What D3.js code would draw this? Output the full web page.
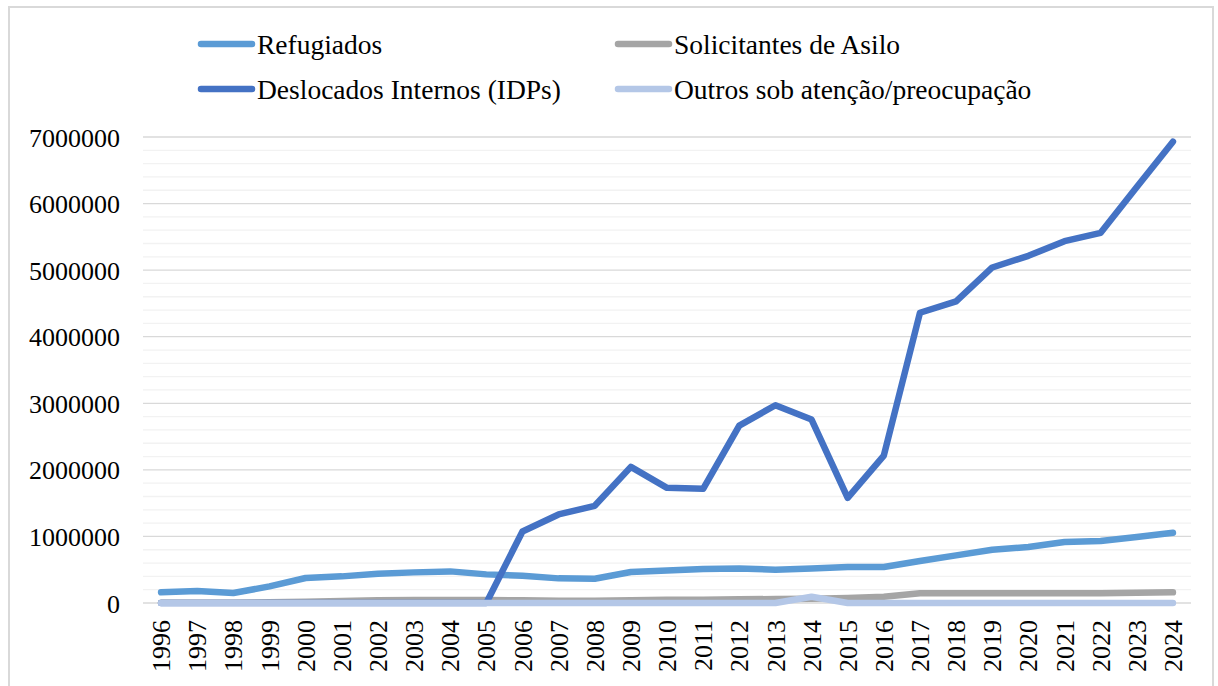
<!DOCTYPE html>
<html>
<head>
<meta charset="utf-8">
<script src="https://cdn.jsdelivr.net/npm/d3@7/dist/d3.min.js"></script>
<style>
  body { margin: 0; background: #fff; }
  text { font-family: "Liberation Serif", "Times New Roman", serif; fill: #000; }
</style>
</head>
<body>
<div id="chart"></div>
<script>
// Dados
const anos = ["1996","1997","1998","1999","2000","2001","2002","2003","2004","2005",
  "2006","2007","2008","2009","2010","2011","2012","2013","2014","2015",
  "2016","2017","2018","2019","2020","2021","2022","2023","2024"];

const refugiados = [160000,180000,150000,250000,375000,400000,440000,460000,475000,430000,
  410000,370000,365000,465000,490000,510000,520000,500000,520000,540000,
  540000,630000,715000,800000,840000,915000,930000,990000,1055000];

const solicitantes = [5000,5000,5000,10000,20000,30000,40000,45000,45000,45000,
  40000,35000,35000,40000,50000,50000,55000,60000,65000,75000,
  95000,145000,145000,145000,145000,145000,145000,155000,160000];

const deslocados = [0,0,0,0,0,0,0,0,0,0,
  1075000,1330000,1460000,2045000,1730000,1715000,2665000,2970000,2755000,1580000,
  2215000,4360000,4530000,5040000,5215000,5435000,5560000,6250000,6930000];

const outros = [0,0,0,0,0,0,0,0,0,0,
  0,0,0,0,0,0,0,0,95000,0,
  0,0,0,0,0,0,0,0,0];

const yTicks = [0,1000000,2000000,3000000,4000000,5000000,6000000,7000000];

const series = [
  { nome: "Refugiados", valores: refugiados, cor: "#5B9BD5" },
  { nome: "Solicitantes de Asilo", valores: solicitantes, cor: "#A5A5A5" },
  { nome: "Deslocados Internos (IDPs)", valores: deslocados, cor: "#4472C4" },
  { nome: "Outros sob atenção/preocupação", valores: outros, cor: "#B4C7E7" }
];

// ––––––––––––––––––––––––––––––––––––––––
const width = 1218, height = 686;
const plot = { left: 143, right: 1191, top: 137, bottom: 603 };

const svg = d3.select("#chart").append("svg")
  .attr("width", width).attr("height", height);

// Moldura
svg.append("rect")
  .attr("x", 9).attr("y", 7)
  .attr("width", 1204).attr("height", 700)
  .attr("fill", "none").attr("stroke", "#D9D9D9").attr("stroke-width", 2);

// Escalas
const x = d3.scaleBand().domain(anos).range([plot.left, plot.right]);
const y = d3.scaleLinear().domain([0, 7000000]).range([plot.bottom, plot.top]);

// Grelha secundária (200 000)
const minor = d3.range(0, 7000001, 200000).filter(v => v % 1000000 !== 0);
svg.append("g").selectAll("line").data(minor).enter().append("line")
  .attr("x1", plot.left).attr("x2", plot.right)
  .attr("y1", d => y(d)).attr("y2", d => y(d))
  .attr("stroke", "#F2F2F2").attr("stroke-width", 1.3);

// Grelha principal
svg.append("g").selectAll("line").data(yTicks).enter().append("line")
  .attr("x1", plot.left).attr("x2", plot.right)
  .attr("y1", d => y(d)).attr("y2", d => y(d))
  .attr("stroke", "#D9D9D9").attr("stroke-width", 1.3);

// Eixo Y
const yAxis = svg.append("g")
  .attr("transform", `translate(${plot.left - 23},0)`)
  .call(d3.axisLeft(y).tickValues(yTicks).tickFormat(d3.format("d")).tickSize(0).tickPadding(0));
yAxis.select(".domain").remove();
yAxis.selectAll("text")
  .attr("font-size", 26)
  .attr("font-family", '"Liberation Serif", "Times New Roman", serif')
  .attr("dy", "0.35em");

// Eixo X (rótulos rodados)
const xAxis = svg.append("g")
  .attr("transform", `translate(0,${plot.bottom})`)
  .call(d3.axisBottom(x).tickSize(0).tickPadding(0));
xAxis.select(".domain").remove();
xAxis.selectAll("text")
  .attr("font-size", 26)
  .attr("font-family", '"Liberation Serif", "Times New Roman", serif')
  .attr("text-anchor", "end")
  .attr("transform", "translate(0,17) rotate(-90)")
  .attr("x", 0).attr("y", 0)
  .attr("dy", "0.35em");

// Linhas
const line = d3.line()
  .x((d, i) => x(anos[i]) + x.bandwidth() / 2)
  .y(d => y(d));

svg.append("g").selectAll("path").data(series).enter().append("path")
  .attr("d", d => line(d.valores))
  .attr("fill", "none")
  .attr("stroke", d => d.cor)
  .attr("stroke-width", 6.5)
  .attr("stroke-linecap", "round")
  .attr("stroke-linejoin", "round");

// Legenda
const legPos = [
  { x: 201, y: 44 }, { x: 618, y: 44 },
  { x: 201, y: 89 }, { x: 618, y: 89 }
];
const legend = svg.append("g").selectAll("g").data(series).enter().append("g")
  .attr("transform", (d, i) => `translate(${legPos[i].x},${legPos[i].y})`);
legend.append("line")
  .attr("x1", 0).attr("x2", 51).attr("y1", 0).attr("y2", 0)
  .attr("stroke", d => d.cor).attr("stroke-width", 6.5).attr("stroke-linecap", "round");
legend.append("text")
  .attr("x", 56).attr("y", 0).attr("dy", "0.35em")
  .attr("font-size", 27.5)
  .text(d => d.nome);
</script>
</body>
</html>
